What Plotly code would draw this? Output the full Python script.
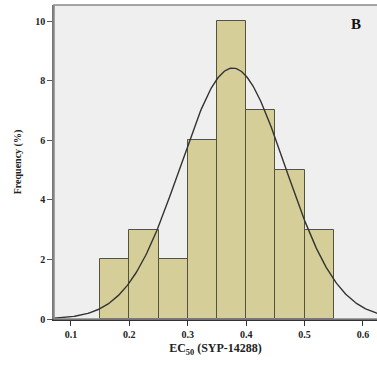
import numpy as np
import plotly.graph_objects as go

bin_left = [0.15, 0.20, 0.25, 0.30, 0.35, 0.40, 0.45, 0.50]
counts = [2, 3, 2, 6, 10, 7, 5, 3]
bin_width = 0.05
fit_mean = 0.377
fit_sd = 0.090
x_ticks = [0.1, 0.2, 0.3, 0.4, 0.5, 0.6]
y_ticks = [0, 2, 4, 6, 8, 10]

centers = [b + bin_width / 2 for b in bin_left]
n = sum(counts)
xs = np.linspace(0.071, 0.63, 300)
ys = n * bin_width / (fit_sd * np.sqrt(2 * np.pi)) * np.exp(-(xs - fit_mean) ** 2 / (2 * fit_sd ** 2))

font = "Liberation Serif, Times New Roman, serif"

fig = go.Figure()
fig.add_trace(go.Bar(x=centers, y=counts, width=bin_width,
                     marker=dict(color="#d5ce98", line=dict(color="#55533a", width=1)),
                     hoverinfo="skip"))
fig.add_trace(go.Scatter(x=xs, y=ys, mode="lines",
                         line=dict(color="#333333", width=1.4), hoverinfo="skip"))

fig.update_layout(
    width=377, height=366,
    margin=dict(l=54, r=0, t=5, b=47),
    paper_bgcolor="white", plot_bgcolor="#efefef",
    showlegend=False, bargap=0,
    font=dict(family=font, color="#222"),
    xaxis=dict(range=[0.071, 0.624], tickvals=x_ticks,
               ticktext=[f"<b>{v}</b>" for v in x_ticks],
               ticks="outside", ticklen=5, tickcolor="#333",
               showgrid=False, zeroline=False,
               showline=True, linecolor="#333", linewidth=1.5,
               tickfont=dict(size=10, family=font),
               title=dict(text="<b>EC<sub>50</sub> (SYP-14288)</b>",
                          font=dict(size=12, family=font), standoff=5)),
    yaxis=dict(range=[0, 10.54], tickvals=y_ticks,
               ticktext=[f"<b>{v}</b>" for v in y_ticks],
               ticks="outside", ticklen=5, tickcolor="#555",
               showgrid=False, zeroline=False,
               showline=True, linecolor="#777", linewidth=1.5,
               tickfont=dict(size=10, family=font),
               title=dict(text="<b>Frequency (%)</b>",
                          font=dict(size=10, family=font), standoff=12)),
    shapes=[dict(type="rect", xref="paper", yref="paper", x0=0, x1=1.02, y0=0, y1=1,
                 line=dict(color="#888", width=1.5), layer="above")],
    annotations=[dict(text="<b>B</b>", xref="paper", yref="paper", x=0.935, y=0.97,
                      xanchor="center", yanchor="top", showarrow=False,
                      font=dict(size=15, family=font, color="#111"))],
)
fig.write_html("out.html")
